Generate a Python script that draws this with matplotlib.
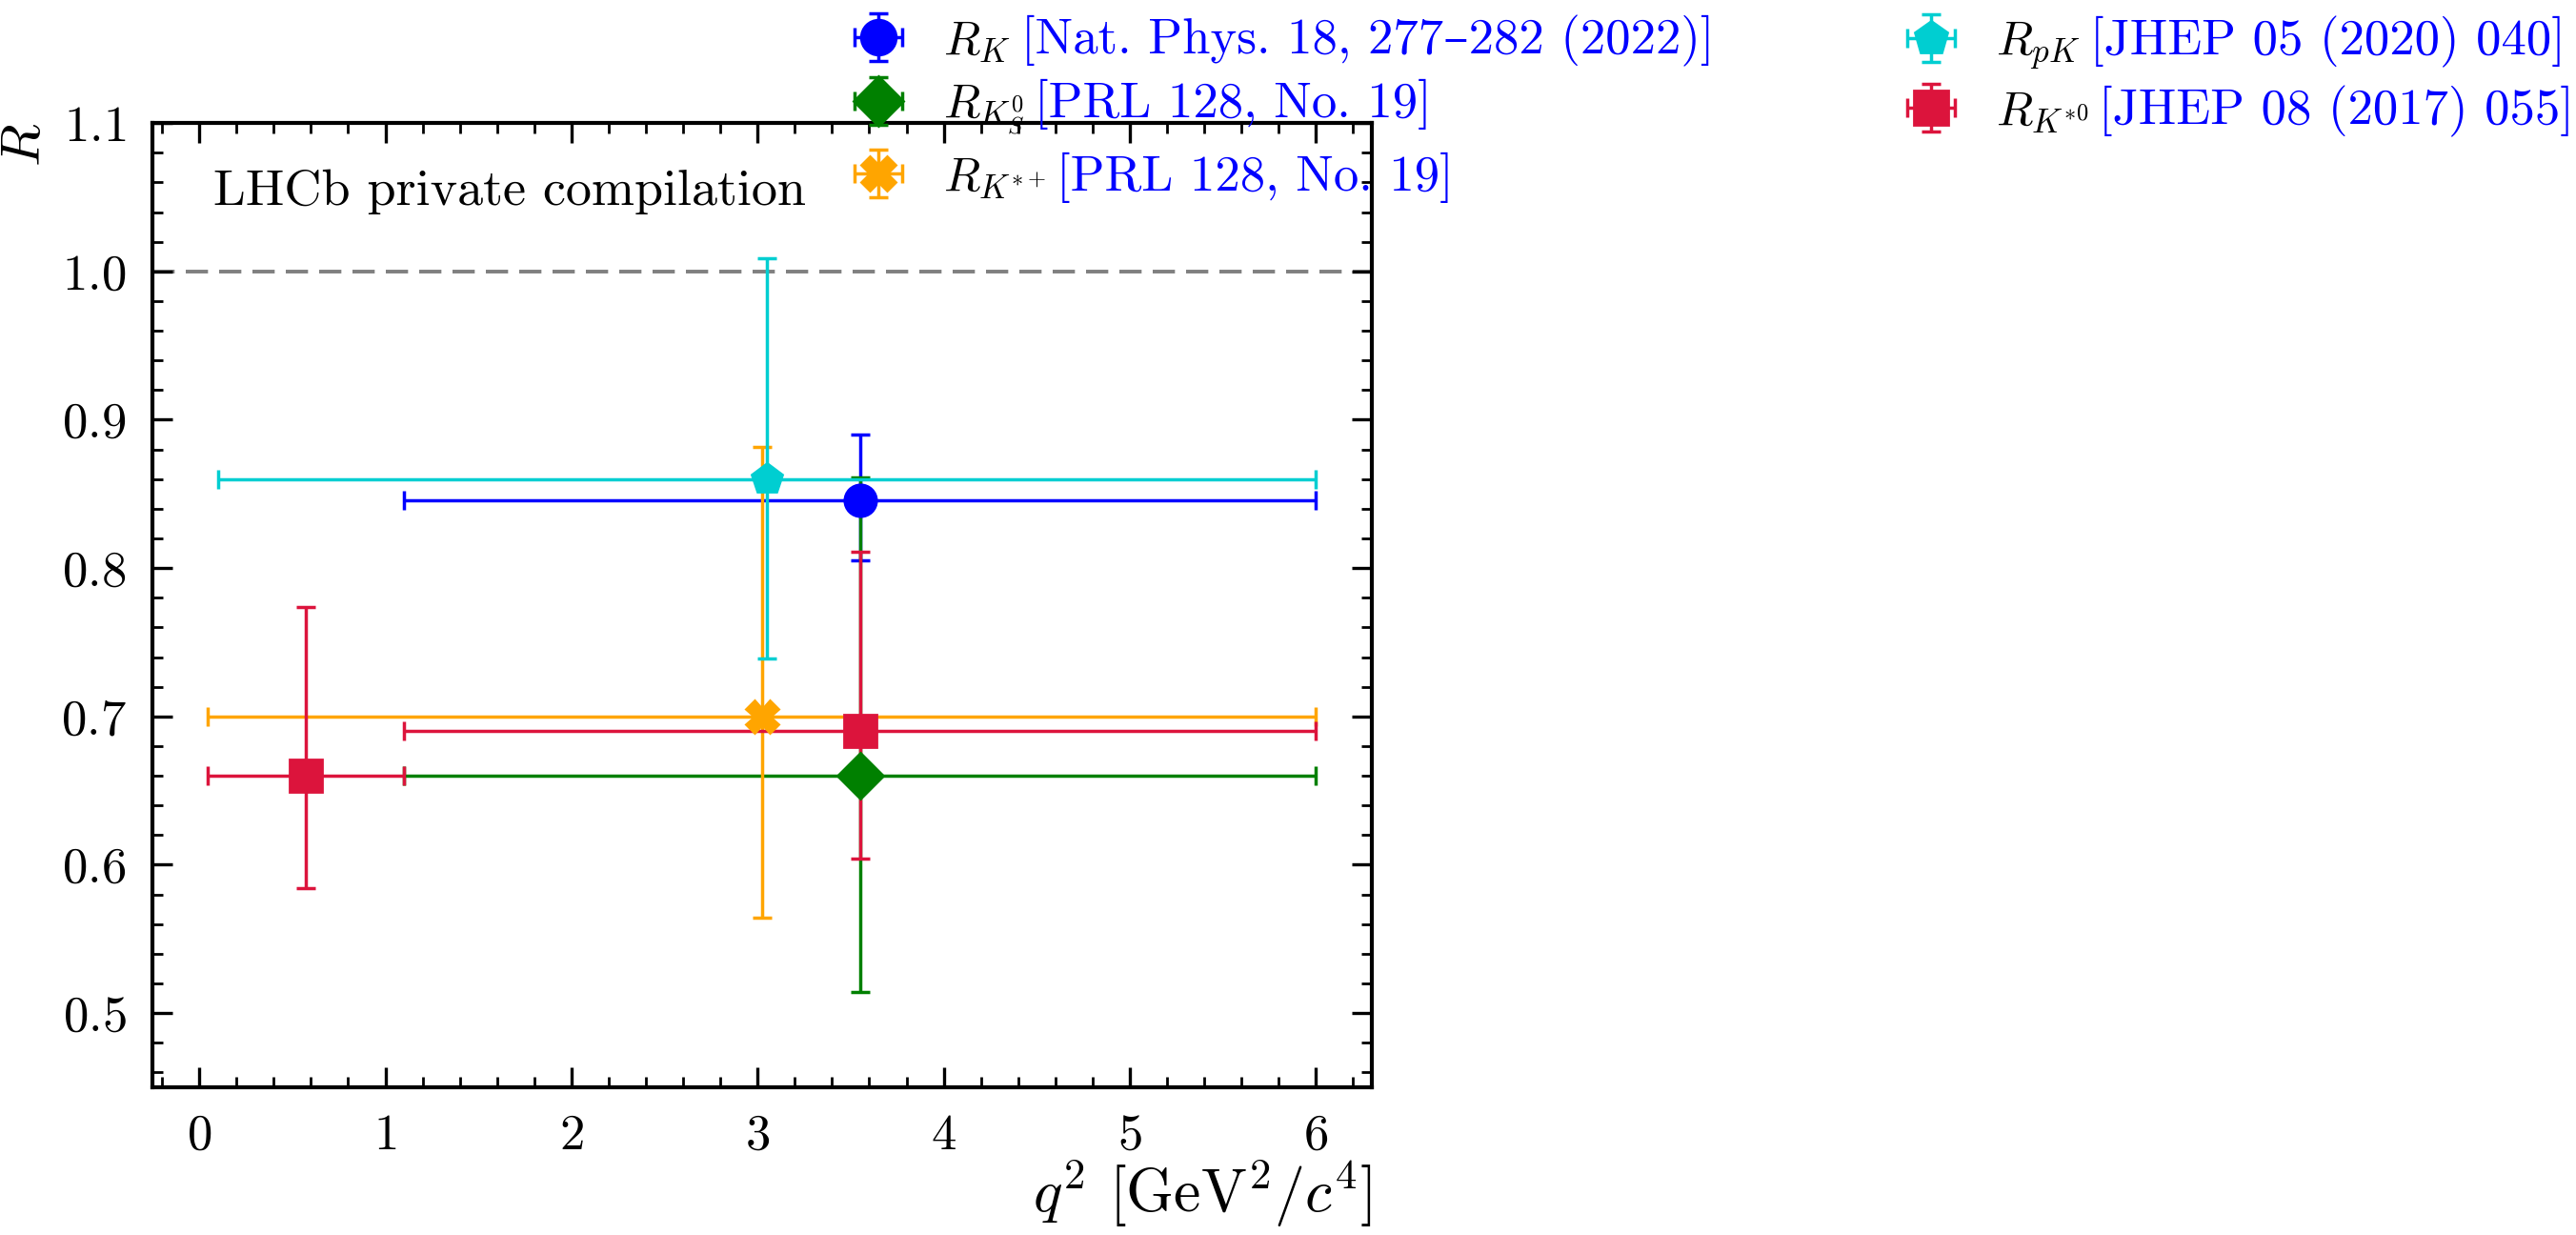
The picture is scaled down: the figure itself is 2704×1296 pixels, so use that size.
import matplotlib
matplotlib.use("Agg")
import matplotlib.pyplot as plt
from matplotlib.ticker import MultipleLocator

plt.rcParams['font.family'] = ['cmr10', 'DejaVu Serif']
plt.rcParams['mathtext.fontset'] = 'cm'
plt.rcParams['axes.formatter.use_mathtext'] = True
plt.rcParams['axes.unicode_minus'] = False
plt.rcParams['font.size'] = 19

# LFU ratios in the low-q2 region (total errors = stat (+) syst)
labels = [r'$R_K$', r'$R_{K^0_S}$', r'$R_{K^{*+}}$', r'$R_{pK}$', r'$R_{K^{*0}}$']
refs = ['[Nat. Phys. 18, 277–282 (2022)]', '[PRL 128, No. 19]', '[PRL 128, No. 19]',
        '[JHEP 05 (2020) 040]', '[JHEP 08 (2017) 055]']
colors = ['blue', 'green', 'orange', 'darkturquoise', 'crimson']
markers = ['o', 'D', 'X', 'p', 's']

q2_low = [[1.1], [1.1], [0.045], [0.1], [0.045, 1.1]]
q2_high = [[6.0], [6.0], [6.0], [6.0], [1.1, 6.0]]
r_val = [[0.846], [0.66], [0.70], [0.86], [0.66, 0.69]]
r_err_lo = [[0.041], [0.146], [0.136], [0.121], [0.076, 0.086]]
r_err_hi = [[0.044], [0.201], [0.182], [0.149], [0.114, 0.121]]

fig = plt.figure(figsize=(13.52, 6.48), dpi=200)
ax = fig.add_axes([0.0593, 0.1197, 0.4732, 0.7806])

handles = []
for i in range(len(labels)):
    x = [(lo + hi) / 2 for lo, hi in zip(q2_low[i], q2_high[i])]
    xerr = [[xc - lo for xc, lo in zip(x, q2_low[i])],
            [hi - xc for xc, hi in zip(x, q2_high[i])]]
    h = ax.errorbar(x, r_val[i], xerr=xerr, yerr=[r_err_lo[i], r_err_hi[i]],
                    fmt=markers[i], color=colors[i], markersize=12,
                    elinewidth=1.25, capsize=3.5, capthick=1.25)
    handles.append(h)

ax.axhline(1.0, color='grey', linestyle=(0, (6, 3)), linewidth=1.4, zorder=0)

ax.set_xlim(-0.25, 6.3)
ax.set_ylim(0.45, 1.1)
ax.xaxis.set_major_locator(MultipleLocator(1))
ax.xaxis.set_minor_locator(MultipleLocator(0.2))
ax.yaxis.set_major_locator(MultipleLocator(0.1))
ax.yaxis.set_minor_locator(MultipleLocator(0.02))
ax.tick_params(which='both', direction='in', top=True, right=True)
ax.tick_params(which='major', length=7.5, width=1.2, pad=10)
ax.tick_params(which='minor', length=3.8, width=1.0)
for s in ax.spines.values():
    s.set_linewidth(1.5)

ax.set_xlabel(r'$q^2$ [GeV$^2/c^4$]', loc='right', fontsize=23, labelpad=0)
ax.set_ylabel(r'$R$', loc='top', fontsize=21)
ax.text(0.05, 0.915, 'LHCb private compilation', transform=ax.transAxes,
        va='baseline', fontsize=19.5)

# two legend columns, citation added afterwards in blue
leg_kw = dict(loc='upper left', frameon=False, handlelength=1.0, handletextpad=0.85,
              labelspacing=0.4, borderaxespad=0, markerscale=1.1, fontsize=18)
leg1 = fig.legend(handles[:3], labels[:3], bbox_to_anchor=(0.3244, 1.0), **leg_kw)
leg2 = fig.legend(handles[3:], labels[3:], bbox_to_anchor=(0.733, 1.0), **leg_kw)

fig.canvas.draw()
renderer = fig.canvas.get_renderer()
inv = fig.transFigure.inverted()
texts = leg1.get_texts() + leg2.get_texts()
for t, ref in zip(texts, refs):
    bb = t.get_window_extent(renderer)
    base_y = t.get_transform().transform(t.get_position())[1]
    fx, fy = inv.transform((bb.x1 + 11, base_y))
    fig.text(fx, fy, ref, color='blue', va='baseline', ha='left', fontsize=19)

fig.savefig('out.png', dpi=200)
